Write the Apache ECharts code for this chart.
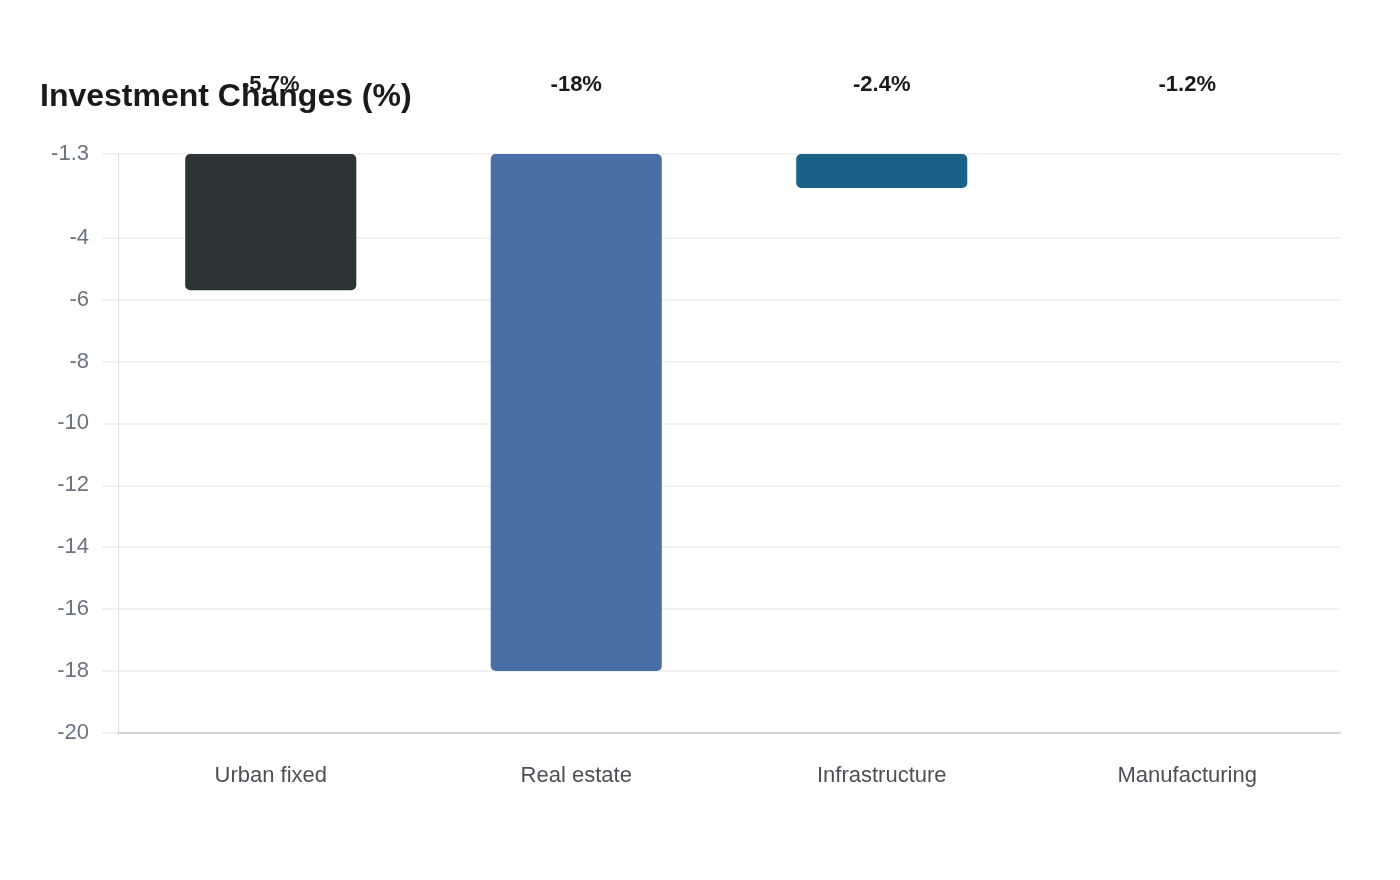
<!DOCTYPE html>
<html><head><meta charset="utf-8">
<script src="https://cdn.jsdelivr.net/npm/echarts@6/dist/echarts.min.js"></script>
<style>html,body{margin:0;padding:0;background:#fff}#c{width:1400px;height:880px}</style>
</head><body><div id="c"></div>
<script>
const categories = ['Urban fixed', 'Real estate', 'Infrastructure', 'Manufacturing'];
const values = [-5.7, -18, -2.4, -1.2];
const barColors = ['#2d3436', '#4a6fa5', '#1a6187', '#5b8bb5'];
const yTicks = [-20, -18, -16, -14, -12, -10, -8, -6, -4, -1.3];
const axisMin = -20, axisMax = -1.3;

const FONT = 'Liberation Sans, Arial, sans-serif';
const chart = echarts.init(document.getElementById('c'), null, {renderer: 'canvas'});
chart.setOption({
  backgroundColor: '#fff',
  animation: false,
  title: {
    text: 'Investment Changes (%)', left: 35, top: 76,
    textStyle: {fontFamily: FONT, fontSize: 32, fontWeight: 'bold', color: '#1a1a1a'}
  },
  grid: {left: 118, right: 60, top: 154, bottom: 147},
  xAxis: {
    type: 'category', data: categories,
    axisLine: {lineStyle: {color: '#d4d4d8', width: 2}},
    axisTick: {show: false},
    axisLabel: {fontFamily: FONT, fontSize: 22, color: '#4b5055', margin: 32}
  },
  yAxis: {
    type: 'value', min: axisMin, max: axisMax,
    axisLine: {show: true, lineStyle: {color: '#d8d8d8', width: 1, type: 'dotted'}},
    axisTick: {show: true, length: 16, customValues: yTicks, lineStyle: {color: '#eeeeee', width: 1.5}},
    splitLine: {show: true, customValues: yTicks, lineStyle: {color: '#eeeeee', width: 1.5}},
    axisLabel: {fontFamily: FONT, fontSize: 22, color: '#6b7280', margin: 29, customValues: yTicks, padding: [3, 0, 0, 0]}
  },
  series: [{
    type: 'bar', barWidth: '56%', clip: true,
    data: values.map((v, i) => ({value: v, itemStyle: {color: barColors[i], borderRadius: 5}})),
    label: {show: false}
  }, {
    type: 'bar', barWidth: '56%', barGap: '-100%', clip: false, silent: true,
    data: values,
    itemStyle: {color: 'rgba(0,0,0,0)'},
    label: {
      show: true, position: 'top', distance: 18,
      formatter: p => p.value + '%',
      fontFamily: FONT, fontSize: 22, fontWeight: 'bold', color: '#1a1a1a'
    }
  }]
});
</script></body></html>
